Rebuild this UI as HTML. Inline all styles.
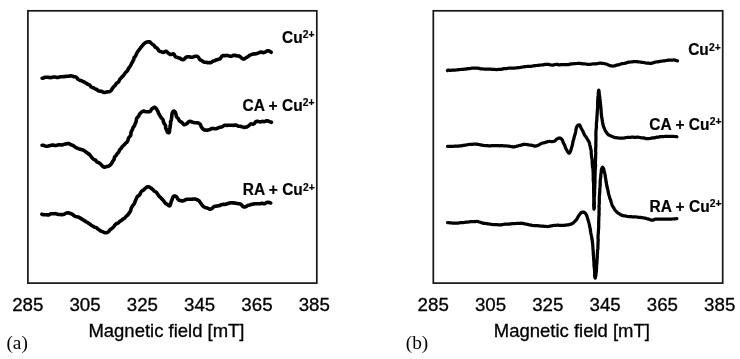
<!DOCTYPE html>
<html><head><meta charset="utf-8"><title>EPR spectra</title>
<style>
html,body{margin:0;padding:0;background:#fff;}
body{width:740px;height:359px;overflow:hidden;}
svg{display:block;}
text{fill:#000;}
.lb{font-family:"Liberation Sans",Arial,sans-serif;font-weight:bold;font-size:15.5px;stroke:#000;stroke-width:0.2px;}
.sp{font-family:"Liberation Sans",Arial,sans-serif;font-weight:bold;font-size:10.3px;stroke:#000;stroke-width:0.2px;}
.tk{font-family:"Liberation Sans",Arial,sans-serif;font-size:18px;stroke:#000;stroke-width:0.3px;}
.ax{font-family:"Liberation Sans",Arial,sans-serif;font-size:18px;stroke:#000;stroke-width:0.3px;}
.pn{font-family:"Liberation Serif","DejaVu Serif",serif;font-size:18px;}
</style></head><body>
<svg width="740" height="359" viewBox="0 0 740 359">
<rect x="0" y="0" width="740" height="359" fill="#fff"/>
<rect x="27.9" y="10.8" width="288.9" height="272.3" fill="none" stroke="#161616" stroke-width="1.7"/>
<rect x="433.3" y="10.8" width="289.4" height="272.3" fill="none" stroke="#161616" stroke-width="1.7"/>
<path d="M42.1,78.3 42.5,78.3 43.3,78.0 44.4,77.5 45.4,77.2 46.5,77.2 47.5,77.3 48.5,77.4 49.5,77.5 50.5,77.6 51.5,77.5 52.5,77.3 53.5,77.1 54.5,76.9 55.4,77.1 56.3,77.4 57.3,77.5 58.3,77.4 59.2,77.1 60.1,76.9 61.0,76.8 62.1,76.8 63.1,76.7 64.1,76.6 65.0,76.5 66.1,76.4 67.1,76.3 68.1,76.2 69.1,76.1 70.0,75.9 70.8,75.9 71.6,76.0 72.4,76.2 73.2,76.6 74.0,76.8 74.9,76.8 75.9,77.0 76.7,77.6 77.3,78.5 78.0,79.3 78.9,79.8 79.8,80.3 80.6,80.6 81.4,80.8 82.2,81.1 83.0,81.5 83.9,81.9 84.7,82.4 85.6,82.8 86.3,83.2 87.0,83.7 87.7,84.2 88.6,84.5 89.4,84.9 90.1,85.5 90.7,86.3 91.3,87.0 92.1,87.4 93.0,87.7 93.8,88.0 94.5,88.5 95.3,89.0 96.1,89.2 96.9,89.5 97.5,90.2 98.2,90.7 99.0,91.0 99.9,91.1 100.7,91.3 101.6,91.4 102.4,91.6 103.0,92.1 103.8,92.5 104.6,92.5 105.5,92.2 106.4,92.0 107.4,91.9 108.1,91.7 109.0,91.7 109.8,91.4 110.6,91.0 111.3,90.3 111.8,89.5 112.4,88.6 112.9,87.7 113.5,87.1 114.0,86.4 114.7,85.8 115.3,85.2 115.8,84.4 116.3,83.6 116.9,83.0 117.7,82.5 118.4,82.0 118.9,81.3 119.3,80.5 119.6,79.7 120.1,79.0 120.8,78.3 121.4,77.6 122.1,76.8 122.8,76.2 123.5,75.5 124.0,74.8 124.5,74.0 125.0,73.2 125.5,72.5 126.2,71.9 126.9,71.3 127.5,70.7 127.9,69.9 128.2,69.0 128.7,68.2 129.3,67.5 129.8,66.7 130.3,66.0 130.7,65.2 131.2,64.4 131.5,63.5 132.0,62.7 132.5,61.9 132.9,61.0 133.4,60.2 133.8,59.4 133.9,58.5 134.1,57.6 134.7,57.0 135.4,56.3 135.8,55.5 136.1,54.7 136.5,53.9 136.9,53.2 137.2,52.4 137.7,51.6 138.3,50.8 138.9,50.1 139.4,49.3 140.0,48.6 140.5,47.9 141.1,47.2 141.6,46.5 142.3,45.8 143.0,45.0 143.5,44.3 144.2,43.6 144.9,43.1 145.8,42.5 146.7,42.1 147.7,41.9 148.7,41.8 149.6,41.9 150.4,42.4 151.0,43.1 151.7,43.8 152.5,44.3 153.2,44.7 153.9,45.2 154.4,45.9 154.8,46.7 155.4,47.3 156.3,47.7 157.0,48.1 157.6,48.8 158.2,49.6 158.6,50.5 159.3,51.1 160.1,51.4 160.9,51.6 161.7,51.9 162.5,52.3 163.4,52.4 164.4,52.0 165.4,51.4 166.5,51.4 167.2,52.0 167.9,52.8 168.7,53.5 169.5,54.1 170.1,54.5 171.1,54.5 172.1,54.1 173.1,53.8 174.0,54.1 174.5,55.0 174.9,56.1 175.7,56.9 176.6,57.2 177.4,57.6 178.3,57.8 179.2,58.0 180.0,58.3 180.7,58.8 181.4,59.3 182.3,59.6 183.1,59.6 183.7,59.5 184.3,59.1 184.9,58.3 185.7,57.5 186.8,57.0 187.5,56.8 188.3,56.7 189.2,56.8 190.0,57.0 190.9,57.3 191.8,57.3 192.7,57.2 193.6,56.8 194.5,56.4 195.4,56.2 196.2,56.2 197.1,56.3 197.8,56.6 198.4,57.3 198.9,58.1 199.4,59.0 200.0,59.8 200.9,60.2 201.8,60.6 202.6,61.2 203.4,61.8 204.2,62.2 205.1,62.2 206.0,62.3 206.8,62.5 207.7,62.6 208.5,62.7 209.4,62.6 210.3,62.6 211.2,62.5 212.0,61.9 212.7,61.3 213.5,61.0 214.4,60.8 215.2,60.5 216.0,60.0 216.8,59.7 217.7,59.6 218.6,59.3 219.5,59.1 220.3,58.6 220.8,57.9 221.3,57.1 221.8,56.3 222.6,55.8 223.4,55.5 224.4,55.6 225.3,55.7 226.1,55.5 227.0,55.4 228.0,55.6 228.9,55.9 229.8,56.1 230.6,56.2 231.4,56.2 232.2,55.9 233.1,55.5 233.9,55.2 234.8,55.2 235.7,55.5 236.5,55.8 237.4,56.0 238.3,55.9 239.2,56.1 239.9,56.5 240.7,57.2 241.4,57.9 242.1,58.4 243.0,58.9 243.8,59.0 244.6,58.7 245.3,58.2 246.0,57.8 246.8,57.3 247.6,56.9 248.3,56.4 249.0,55.8 249.7,55.3 250.5,54.9 251.4,54.6 252.4,54.3 253.4,54.0 254.2,53.9 255.2,53.9 256.0,53.8 256.9,53.4 257.7,53.2 258.6,52.9 259.3,52.6 260.2,52.2 261.0,52.1 261.9,52.3 262.7,52.5 263.6,52.6 264.5,52.3 265.4,51.9 266.2,51.5 266.9,51.0 267.7,50.8 268.8,50.9 270.0,51.4 270.9,52.0 271.2,52.3" fill="none" stroke="#000" stroke-width="3.6" stroke-linejoin="round" stroke-linecap="round"/>
<path d="M42.0,145.2 42.3,145.2 42.9,145.2 43.9,145.5 45.0,145.9 46.2,146.3 47.4,146.2 48.4,146.0 49.3,145.7 50.3,145.5 51.2,145.3 52.2,145.0 53.1,145.0 54.1,145.3 55.1,145.5 56.1,145.5 57.0,145.3 58.0,144.9 58.9,144.7 59.9,144.7 60.9,144.9 61.8,145.0 62.8,144.8 63.7,144.4 64.7,144.1 65.7,144.0 66.6,143.9 67.5,143.6 68.4,143.5 69.3,143.8 70.1,144.3 70.9,144.8 71.7,145.1 72.6,145.3 73.4,145.7 74.1,146.2 74.7,146.8 75.5,147.3 76.3,147.7 77.1,148.0 77.8,148.4 78.5,148.7 79.5,149.0 80.4,149.3 81.2,149.6 82.1,149.8 82.9,150.0 83.6,150.3 84.3,150.8 85.0,151.2 85.7,151.7 86.4,152.3 87.0,152.9 87.8,153.4 88.6,153.9 89.4,154.4 89.9,155.1 90.5,155.7 91.0,156.4 91.6,157.1 92.1,157.8 92.7,158.5 93.3,159.1 94.1,159.5 95.0,159.9 95.8,160.4 96.3,161.2 97.0,161.9 97.8,162.3 98.6,162.6 99.4,163.1 100.2,163.7 100.9,164.3 101.5,165.0 102.2,165.9 103.1,166.7 104.0,167.1 105.0,167.1 105.8,166.7 106.5,166.5 107.5,166.4 108.5,166.2 109.2,165.8 109.8,165.3 110.5,164.8 111.1,164.1 111.6,163.3 112.1,162.5 112.4,161.8 112.8,161.1 113.4,160.5 113.9,159.8 114.2,159.0 114.3,158.1 114.5,157.1 115.1,156.4 115.8,155.8 116.4,155.1 116.8,154.2 117.3,153.5 118.1,152.8 118.7,152.1 119.1,151.2 119.5,150.3 119.9,149.5 120.5,148.9 121.2,148.3 121.7,147.6 122.2,146.8 122.7,146.1 123.4,145.6 124.0,145.0 124.6,144.3 125.2,143.7 125.8,143.0 126.6,142.5 127.2,141.8 127.7,140.9 128.0,140.1 128.2,139.2 128.5,138.3 128.9,137.5 129.5,136.7 130.2,136.0 130.7,135.2 130.9,134.3 130.9,133.3 131.0,132.4 131.4,131.6 131.7,130.8 132.1,130.0 132.6,129.2 132.8,128.4 133.0,127.6 133.4,127.0 134.1,126.2 134.6,125.4 134.9,124.5 135.3,123.6 135.6,122.8 136.0,121.9 136.2,120.9 136.4,120.0 136.5,118.9 136.9,118.0 137.6,117.3 138.3,116.5 138.9,115.7 139.2,114.8 139.6,114.0 140.3,113.3 141.0,112.7 141.6,112.1 142.2,111.6 142.9,111.3 143.6,111.1 144.4,111.3 145.2,111.6 146.1,111.8 147.1,111.8 148.2,111.8 149.3,111.8 150.3,111.4 150.8,110.6 151.2,109.7 151.8,109.0 152.4,108.5 153.1,108.1 153.7,107.6 154.5,107.3 155.3,107.6 156.0,108.3 156.5,109.1 156.9,109.7 157.4,110.5 157.9,111.4 158.2,112.3 158.5,113.2 158.9,114.0 159.5,114.7 159.9,115.6 160.4,116.4 160.8,117.1 161.3,117.8 161.9,118.4 162.5,119.0 163.0,119.7 163.3,120.6 163.4,121.5 163.6,122.4 164.0,123.2 164.5,124.0 165.1,124.7 165.5,125.6 165.7,126.5 165.6,127.4 165.7,128.3 166.1,129.0 166.6,129.9 167.0,130.8 167.2,131.7 167.6,132.3 168.8,132.8 169.2,132.4 169.5,131.5 169.6,130.2 169.7,129.0 169.9,128.2 170.1,127.5 170.1,126.6 170.1,125.7 170.4,124.8 170.6,123.9 170.6,123.0 170.5,122.0 170.8,121.2 171.2,120.3 171.4,119.3 171.5,118.3 171.6,117.4 171.8,116.4 171.8,115.5 171.9,114.6 172.0,113.9 172.3,112.9 172.7,112.0 173.2,111.4 173.5,111.0 174.1,111.1 174.8,111.7 175.3,112.2 175.6,113.0 175.9,113.8 176.0,114.7 176.2,115.6 176.4,116.5 176.9,117.3 177.6,118.0 178.2,118.6 178.7,119.4 179.1,120.3 179.8,121.1 180.6,121.7 181.5,122.1 182.2,122.7 182.7,123.5 183.3,124.1 184.1,124.6 185.1,124.5 186.1,124.1 187.0,123.5 187.6,122.8 188.2,122.2 188.9,121.6 189.7,121.4 190.4,121.4 191.2,121.6 192.1,122.0 192.9,122.3 193.9,122.6 194.9,122.7 195.8,122.8 196.7,122.8 197.7,122.9 198.5,123.1 199.3,123.5 200.1,124.2 200.6,125.1 201.0,126.1 201.3,126.9 201.9,127.7 202.4,128.4 203.0,129.0 203.6,129.5 204.3,129.9 205.0,130.0 205.8,130.1 206.8,130.1 207.9,130.1 208.9,129.8 209.7,129.5 210.6,129.1 211.4,128.6 212.4,128.4 213.4,128.5 214.4,128.8 215.3,128.8 216.2,128.7 217.1,128.4 217.8,128.0 218.8,127.6 219.7,127.3 220.7,127.2 221.6,126.9 222.5,126.6 223.2,126.1 224.0,125.5 224.8,125.3 225.6,125.3 226.5,125.4 227.3,125.4 228.2,125.3 229.0,125.3 229.9,125.2 230.8,125.2 231.6,125.3 232.5,125.3 233.4,125.4 234.3,125.2 235.2,125.0 236.2,125.1 237.0,125.5 237.8,126.0 238.6,126.2 239.5,126.2 240.3,126.3 241.1,126.5 241.8,126.7 242.9,127.0 243.8,127.2 244.6,127.4 245.5,127.3 246.5,127.1 247.5,126.5 248.2,126.1 248.9,125.6 249.5,125.1 250.1,124.4 250.8,123.9 251.8,124.0 252.8,124.2 253.7,124.0 254.5,123.3 255.1,122.5 255.8,121.7 256.7,121.3 257.7,121.3 258.7,121.6 259.7,121.9 260.7,121.9 261.6,121.6 262.5,121.4 263.3,121.5 264.1,121.7 265.1,121.4 266.0,121.0 266.9,120.8 267.8,121.0 268.7,121.3 269.5,121.6 270.7,122.1 271.5,122.3" fill="none" stroke="#000" stroke-width="3.6" stroke-linejoin="round" stroke-linecap="round"/>
<path d="M41.9,214.2 42.2,214.4 43.1,214.6 44.3,214.8 45.6,214.7 46.7,214.8 47.5,214.9 48.4,215.0 49.2,214.7 50.0,214.2 50.8,213.8 51.7,213.7 52.6,213.8 53.6,213.8 54.6,213.7 55.6,213.6 56.6,213.9 57.5,214.3 58.4,214.5 59.3,214.5 60.2,214.5 61.0,214.6 61.8,214.7 62.6,214.5 63.3,214.5 64.2,214.3 65.0,213.8 65.9,213.3 66.8,213.0 67.6,212.9 68.4,212.9 69.2,213.0 70.0,213.4 70.9,213.6 71.8,214.0 72.5,214.4 73.3,215.1 74.0,215.7 74.9,216.2 75.9,216.5 76.9,216.7 77.8,216.9 78.7,217.2 79.5,217.6 80.3,218.1 81.1,218.6 81.9,219.1 82.7,219.6 83.6,220.1 84.3,220.6 85.1,221.1 85.9,221.6 86.8,222.1 87.6,222.5 88.3,223.0 88.9,223.5 89.7,224.0 90.4,224.5 91.0,225.1 91.8,225.5 92.5,226.0 93.3,226.4 94.0,226.9 94.8,227.3 95.7,227.5 96.5,227.7 97.1,228.3 97.8,228.9 98.6,229.5 99.4,230.0 100.1,230.6 100.8,231.0 101.8,231.4 102.8,231.7 103.6,232.2 104.5,232.6 105.4,232.7 106.3,232.7 107.3,232.5 108.2,232.0 108.9,231.3 109.3,230.7 109.8,230.1 110.4,229.5 111.0,229.0 111.8,228.6 112.4,228.0 113.1,227.4 113.6,226.8 114.2,226.1 114.7,225.3 115.4,224.6 116.0,224.0 116.7,223.5 117.6,223.2 118.5,222.9 119.1,222.2 119.7,221.5 120.4,221.0 121.3,220.7 121.9,220.0 122.5,219.4 123.3,218.9 124.1,218.5 124.8,218.0 125.3,217.3 125.9,216.7 126.5,216.1 127.1,215.5 127.8,215.0 128.3,214.2 128.9,213.5 129.4,212.7 129.9,211.9 130.5,211.1 130.8,210.1 131.0,209.2 131.2,208.3 131.6,207.5 132.1,206.7 132.6,205.9 133.1,205.1 133.7,204.3 134.3,203.6 134.8,202.7 135.0,201.8 135.3,201.0 135.7,200.1 136.1,199.3 136.5,198.5 136.8,197.6 137.2,196.8 137.9,196.1 138.7,195.6 139.5,195.0 140.0,194.2 140.4,193.3 140.8,192.4 141.3,191.5 142.0,190.9 142.9,190.4 143.7,190.0 144.3,189.3 145.0,188.6 145.7,188.0 146.3,187.5 146.9,187.1 147.4,186.8 148.2,186.8 149.1,187.0 150.0,187.4 150.9,188.0 151.5,188.5 152.2,189.1 152.9,189.7 153.6,190.3 154.2,191.0 155.0,191.5 155.8,191.9 156.5,192.4 157.0,193.2 157.5,193.9 158.0,194.7 158.4,195.4 159.0,196.1 159.6,196.7 160.3,197.2 160.9,197.8 161.5,198.5 162.0,199.1 162.7,199.7 163.2,200.3 163.8,201.1 164.3,201.9 164.9,202.6 165.5,203.4 166.3,203.9 167.1,204.2 167.9,204.8 168.6,205.6 169.4,205.9 170.0,205.5 170.3,204.7 170.7,203.8 170.9,202.8 171.1,201.8 171.5,200.9 171.9,200.0 172.3,199.0 172.6,198.0 173.0,197.1 173.5,196.4 173.9,196.2 174.5,196.0 175.3,196.1 176.2,196.4 176.8,197.1 177.3,198.1 177.8,199.0 178.5,199.7 179.2,200.2 180.1,200.5 181.0,200.8 181.8,200.9 182.6,200.9 183.3,200.8 184.0,200.5 184.9,200.1 185.7,199.6 186.7,199.2 187.5,199.2 188.4,199.2 189.2,199.3 190.1,199.2 190.9,199.2 191.8,199.2 192.6,199.1 193.5,199.0 194.4,199.0 195.4,199.1 196.2,199.4 197.0,199.7 197.8,200.0 198.6,200.5 199.4,201.2 199.9,202.0 200.5,202.8 201.1,203.6 201.6,204.4 202.1,205.2 202.7,205.9 203.5,206.5 204.3,207.0 205.1,207.5 206.0,207.7 206.9,207.9 207.8,208.2 208.7,208.7 209.5,209.1 210.5,209.2 211.4,208.8 212.2,208.2 212.9,207.6 213.6,206.9 214.4,206.4 215.3,206.2 216.2,206.1 217.1,206.0 217.9,205.9 218.8,205.8 219.7,205.6 220.5,205.1 221.3,204.7 222.2,204.5 223.1,204.4 224.0,204.4 224.9,204.4 225.8,204.3 226.6,204.0 227.4,203.6 228.3,203.5 229.1,203.3 229.9,202.9 230.7,202.7 231.5,202.8 232.3,202.9 233.1,202.9 233.9,202.9 234.7,203.0 235.5,203.3 236.4,203.4 237.3,203.5 238.2,203.7 239.1,203.8 239.9,203.9 240.9,204.2 241.6,204.9 242.2,205.7 242.9,206.5 243.8,207.0 244.6,207.0 245.2,206.9 245.9,206.6 246.7,206.1 247.4,205.7 248.1,205.3 248.9,205.2 249.7,205.0 250.5,204.8 251.3,204.5 252.1,204.3 253.0,204.1 253.9,204.0 254.8,203.8 255.7,203.7 256.6,203.7 257.5,203.7 258.4,203.7 259.3,203.8 260.2,203.7 261.1,203.5 262.0,203.3 262.9,203.4 263.8,203.7 264.7,203.8 265.6,203.3 266.3,202.7 267.2,202.4 268.0,202.3 269.1,202.5 270.3,202.8 270.7,203.0" fill="none" stroke="#000" stroke-width="3.6" stroke-linejoin="round" stroke-linecap="round"/>
<path d="M447.5,70.5 447.7,70.3 448.1,70.2 448.9,70.2 449.8,70.3 450.9,70.3 452.1,70.2 453.3,70.1 454.5,70.0 455.7,70.0 456.7,69.9 457.6,69.8 458.5,69.7 459.4,69.6 460.3,69.5 461.3,69.4 462.2,69.3 463.1,69.3 464.0,69.2 464.9,69.2 465.8,69.1 466.7,68.9 467.7,68.7 468.6,68.7 469.6,68.7 470.5,68.5 471.4,68.2 472.3,68.1 473.2,68.1 474.2,68.1 475.1,68.2 476.0,68.2 477.0,68.2 477.9,68.2 478.8,68.4 479.8,68.6 480.7,68.8 481.6,68.9 482.6,68.9 483.5,69.0 484.4,69.2 485.4,69.2 486.3,69.1 487.2,69.0 488.2,69.1 489.1,69.2 490.0,69.2 490.9,69.2 491.8,69.3 492.8,69.4 493.7,69.4 494.7,69.4 495.6,69.5 496.6,69.5 497.5,69.5 498.5,69.4 499.4,69.4 500.3,69.4 501.2,69.3 502.2,69.1 503.1,68.9 504.0,68.7 505.0,68.6 506.0,68.5 506.9,68.5 507.8,68.3 508.7,68.2 509.7,68.1 510.6,68.1 511.5,68.1 512.4,68.0 513.4,68.0 514.3,68.0 515.2,68.0 516.1,67.9 517.1,67.8 518.0,67.7 519.0,67.6 519.9,67.5 520.8,67.3 521.8,67.1 522.7,67.0 523.6,66.9 524.5,66.7 525.4,66.6 526.4,66.5 527.3,66.4 528.2,66.4 529.1,66.3 530.1,66.3 531.0,66.3 531.9,66.2 532.8,66.0 533.8,65.8 534.7,65.6 535.7,65.6 536.6,65.5 537.6,65.4 538.5,65.3 539.4,65.2 540.3,65.1 541.3,65.0 542.3,64.9 543.3,64.8 544.2,64.6 545.2,64.4 546.1,64.3 547.0,64.3 547.9,64.3 548.7,64.4 549.5,64.6 550.4,64.8 551.2,65.0 552.0,65.1 552.9,65.1 553.7,64.9 554.6,64.7 555.4,64.5 556.2,64.4 557.0,64.4 558.0,64.6 558.9,64.8 560.0,64.8 560.8,64.7 561.7,64.6 562.6,64.6 563.6,64.6 564.6,64.6 565.6,64.6 566.7,64.6 567.5,64.5 568.4,64.6 569.3,64.4 570.2,64.2 571.1,63.9 572.0,63.9 572.9,63.8 573.9,63.7 574.8,63.6 575.8,63.6 576.7,63.5 577.6,63.4 578.4,63.3 579.3,63.3 580.2,63.4 581.1,63.6 582.0,63.7 582.9,63.9 583.8,63.9 584.7,63.9 585.6,64.0 586.6,64.1 587.5,64.3 588.4,64.4 589.3,64.4 590.2,64.3 591.1,64.2 592.1,64.0 593.0,63.9 594.0,63.8 595.0,63.8 596.0,63.8 596.9,63.7 597.8,63.5 598.7,63.3 599.5,63.2 600.3,63.1 601.1,63.2 601.8,63.3 602.8,63.4 603.6,63.5 604.5,63.6 605.2,63.8 606.0,64.0 606.8,64.3 607.6,64.6 608.4,65.0 609.2,65.4 610.1,65.6 610.9,65.8 611.8,65.9 612.6,66.0 613.4,66.0 614.2,65.9 615.1,65.7 615.9,65.3 616.7,65.1 617.6,64.9 618.5,64.9 619.3,64.6 620.1,64.3 620.9,64.0 621.7,63.7 622.6,63.6 623.5,63.5 624.4,63.4 625.3,63.2 626.1,62.9 626.9,62.6 627.8,62.4 628.7,62.2 629.6,62.1 630.6,62.0 631.5,61.9 632.4,61.8 633.3,61.7 634.3,61.6 635.2,61.6 636.1,61.7 637.1,61.7 638.0,61.8 639.0,61.9 640.0,62.0 640.9,62.2 641.8,62.3 642.7,62.4 643.6,62.5 644.6,62.7 645.6,63.0 646.5,63.1 647.5,63.1 648.4,63.2 649.4,63.3 650.3,63.4 651.1,63.4 652.0,63.2 652.7,62.9 653.5,62.6 654.3,62.4 655.2,62.1 656.0,62.0 656.9,61.9 657.8,61.8 658.7,61.6 659.6,61.4 660.6,61.3 661.5,61.2 662.5,61.0 663.4,60.9 664.4,60.8 665.3,60.7 666.2,60.5 667.2,60.3 668.2,60.1 669.2,60.0 670.2,60.0 671.1,60.0 672.1,60.0 672.9,60.0 673.7,59.9 675.0,60.1 676.2,60.5 677.1,60.8 677.5,60.9" fill="none" stroke="#000" stroke-width="3.25" stroke-linejoin="round" stroke-linecap="round"/>
<path d="M447.5,146.3 447.7,146.3 448.2,146.3 448.9,146.3 449.9,146.3 451.0,146.3 452.2,146.3 453.4,146.3 454.6,146.2 455.7,146.2 456.7,146.2 457.6,146.2 458.6,146.1 459.5,145.9 460.4,145.8 461.4,145.8 462.3,145.6 463.2,145.4 464.1,145.3 465.1,145.1 466.0,145.0 466.9,144.8 467.7,144.7 468.6,144.5 469.6,144.4 470.5,144.4 471.4,144.3 472.4,144.3 473.3,144.2 474.2,144.2 475.1,144.2 476.0,144.1 476.9,144.1 477.8,144.3 478.7,144.5 479.6,144.7 480.5,144.9 481.4,145.1 482.3,145.2 483.2,145.4 484.2,145.5 485.1,145.6 486.0,145.7 486.9,145.7 487.8,145.7 488.7,145.8 489.6,145.8 490.5,145.8 491.4,145.7 492.3,145.6 493.2,145.6 494.1,145.6 495.0,145.6 495.9,145.5 496.8,145.5 497.8,145.6 498.7,145.7 499.7,145.8 500.6,145.7 501.6,145.7 502.5,145.7 503.4,145.8 504.3,145.8 505.2,145.8 506.1,145.9 506.9,146.0 507.9,146.1 508.9,146.2 509.9,146.3 510.8,146.5 511.7,146.7 512.6,146.9 513.5,146.9 514.4,146.8 515.2,146.6 516.1,146.4 516.9,146.2 517.8,146.0 518.6,145.7 519.4,145.5 520.2,145.3 521.0,145.1 521.9,144.8 522.7,144.6 523.6,144.4 524.5,144.4 525.4,144.4 526.4,144.5 527.4,144.6 528.4,144.9 529.3,145.0 530.3,145.1 531.1,145.2 532.0,145.3 532.8,145.5 533.6,145.9 534.5,146.1 535.3,146.1 536.1,145.9 536.9,145.7 537.7,145.4 538.6,145.0 539.4,144.6 540.2,144.1 541.1,143.6 541.9,143.3 542.8,143.0 543.6,142.9 544.5,142.7 545.3,142.4 546.1,142.1 547.0,141.9 547.8,141.7 548.6,141.5 549.5,141.4 550.4,141.5 551.3,141.6 552.2,141.6 553.0,141.5 553.8,141.3 554.5,141.1 555.3,140.6 555.9,140.0 556.5,139.3 557.2,138.7 558.0,138.4 558.7,138.1 559.5,138.0 560.4,138.2 561.2,138.7 561.8,139.4 562.3,140.0 562.6,140.7 562.9,141.5 563.2,142.4 563.6,143.2 564.0,144.0 564.4,144.8 564.8,145.6 565.1,146.5 565.4,147.4 565.7,148.3 566.1,149.0 566.6,149.9 567.1,150.8 567.5,151.6 567.9,152.2 568.6,152.9 569.3,153.2 569.7,152.8 570.1,152.0 570.5,151.1 570.9,150.1 571.1,149.4 571.3,148.6 571.5,147.8 571.8,146.9 572.1,146.0 572.4,145.1 572.6,144.2 572.7,143.2 572.8,142.3 573.0,141.4 573.3,140.5 573.6,139.6 573.9,138.7 574.0,137.8 574.2,136.9 574.5,136.0 574.8,135.1 575.1,134.3 575.3,133.4 575.5,132.5 575.7,131.5 575.8,130.5 576.0,129.6 576.2,128.7 576.4,127.8 576.6,127.1 577.1,126.2 577.6,125.5 578.2,125.0 579.5,124.8 579.9,125.3 580.3,126.2 580.7,127.3 581.1,128.1 581.6,129.0 582.1,129.8 582.6,130.7 583.0,131.6 583.4,132.4 583.8,133.3 584.1,134.1 584.5,134.9 585.0,135.7 585.5,136.3 586.0,137.0 586.5,137.7 587.0,138.4 587.4,139.2 587.8,139.9 588.2,140.6 588.6,141.3 589.0,142.0 589.3,142.7 589.6,143.5 589.7,144.3 589.9,145.1 590.1,145.9 590.3,146.8 590.5,147.7 590.6,148.6 590.8,149.4 591.1,150.2 591.2,151.1 591.2,152.1 591.2,153.0 591.3,153.9 591.4,154.9 591.5,155.8 591.6,156.7 591.7,157.6 591.9,158.5 592.1,159.5 592.2,160.4 592.2,161.3 592.2,162.2 592.2,163.2 592.3,164.1 592.4,165.1 592.4,166.0 592.5,166.8 592.7,167.7 592.9,168.5 593.0,169.4 593.0,170.3 593.1,171.2 593.1,172.1 593.2,173.1 593.2,174.0 593.2,175.0 593.2,175.8 593.3,176.6 593.3,177.4 593.2,178.3 593.2,179.1 593.3,180.0 593.3,180.9 593.4,181.8 593.5,182.6 593.6,183.5 593.6,184.4 593.7,185.4 593.6,186.3 593.6,187.2 593.6,188.1 593.6,189.1 593.6,190.0 593.6,190.9 593.6,191.9 593.7,192.9 593.7,194.0 593.7,195.2 593.7,196.4 593.8,197.6 593.8,198.8 593.8,200.0 593.8,201.2 593.8,202.3 593.8,203.4 593.7,204.4 593.7,205.4 593.8,206.3 593.8,207.1 593.9,207.7 593.9,208.3 593.9,208.7 593.9,208.9 594.0,209.0 594.1,208.9 594.1,208.7 594.2,208.3 594.3,207.8 594.3,207.1 594.2,206.4 594.2,205.5 594.3,204.6 594.4,203.5 594.3,202.5 594.2,201.3 594.2,200.2 594.2,199.0 594.2,197.8 594.3,196.6 594.4,195.4 594.6,194.2 594.6,193.1 594.6,192.0 594.6,191.0 594.6,190.0 594.6,189.1 594.7,188.2 594.8,187.3 594.8,186.4 594.8,185.5 594.8,184.5 594.9,183.6 595.0,182.7 595.0,181.8 595.0,180.9 594.9,179.9 594.9,179.0 595.0,178.1 595.0,177.2 595.0,176.3 595.1,175.4 595.1,174.5 595.1,173.6 595.1,172.7 595.1,171.8 595.2,170.9 595.2,170.0 595.3,169.1 595.3,168.1 595.4,167.2 595.6,166.2 595.6,165.3 595.5,164.4 595.4,163.5 595.3,162.6 595.4,161.6 595.5,160.7 595.5,159.8 595.5,158.9 595.6,158.0 595.7,157.1 595.6,156.2 595.6,155.3 595.7,154.3 595.8,153.4 595.8,152.5 595.6,151.6 595.6,150.7 595.7,149.8 595.7,148.9 595.7,147.9 595.8,147.0 595.9,146.1 595.9,145.2 595.8,144.2 595.8,143.3 595.8,142.4 595.9,141.5 595.9,140.6 595.9,139.7 595.9,138.8 596.0,137.9 595.9,137.0 595.9,136.2 595.9,135.3 595.9,134.5 595.9,133.5 595.9,132.6 595.9,131.7 596.0,130.8 596.1,129.9 596.2,129.0 596.3,128.1 596.4,127.2 596.4,126.4 596.4,125.5 596.4,124.6 596.4,123.7 596.5,122.7 596.5,121.8 596.7,121.0 596.8,120.1 596.8,119.2 596.9,118.4 596.9,117.5 597.0,116.5 597.0,115.6 597.1,114.7 597.2,113.8 597.2,112.9 597.3,111.9 597.3,111.0 597.4,110.1 597.5,109.2 597.5,108.4 597.6,107.5 597.6,106.6 597.6,105.8 597.6,105.0 597.6,104.0 597.6,103.0 597.6,101.9 597.7,100.9 597.8,99.9 597.9,99.0 597.9,98.0 597.9,97.1 598.1,96.3 598.3,95.5 598.3,94.7 598.3,94.0 598.3,92.8 598.4,91.6 598.6,90.7 598.8,90.3 599.0,90.8 599.1,91.7 599.2,92.9 599.2,94.0 599.4,94.8 599.5,95.5 599.6,96.3 599.7,97.2 599.9,98.0 600.0,99.0 600.1,99.8 600.1,100.6 600.2,101.5 600.3,102.4 600.4,103.3 600.5,104.3 600.6,105.2 600.7,106.2 600.8,107.2 600.9,108.1 601.0,109.1 601.1,110.0 601.1,110.9 601.2,111.9 601.2,112.9 601.3,113.8 601.4,114.8 601.5,115.7 601.6,116.7 601.8,117.5 601.9,118.4 602.1,119.2 602.2,120.0 602.3,120.9 602.5,121.8 602.7,122.6 602.8,123.4 602.9,124.2 603.1,125.0 603.3,125.9 603.6,126.6 603.9,127.4 604.3,128.2 604.6,129.0 604.9,129.8 605.3,130.7 605.8,131.5 606.3,132.3 606.9,133.1 607.5,133.9 608.2,134.6 608.9,135.1 609.7,135.4 610.4,135.8 611.2,136.1 612.0,136.5 612.8,136.8 613.6,137.1 614.5,137.4 615.3,137.6 616.1,137.7 617.0,137.8 617.9,137.9 618.8,138.0 619.7,138.2 620.6,138.2 621.5,138.2 622.3,138.2 623.2,138.1 624.0,138.0 624.8,137.9 625.6,137.7 626.4,137.5 627.3,137.4 628.1,137.4 629.0,137.4 629.8,137.4 630.7,137.3 631.6,137.2 632.5,137.2 633.3,137.2 634.2,137.3 635.1,137.3 636.0,137.3 636.8,137.2 637.8,137.2 638.8,137.3 639.8,137.5 640.8,137.7 641.7,137.8 642.6,137.8 643.5,137.9 644.5,138.1 645.3,138.4 646.1,138.6 647.0,138.7 647.9,138.7 648.8,138.6 649.7,138.5 650.6,138.3 651.6,138.1 652.5,137.9 653.5,137.8 654.3,137.8 655.1,137.6 656.0,137.4 656.8,137.2 657.7,137.1 658.5,137.1 659.4,136.9 660.2,136.7 661.2,136.6 662.1,136.5 663.1,136.5 664.1,136.5 665.0,136.4 666.0,136.4 666.9,136.4 667.9,136.4 668.8,136.3 669.7,136.3 670.6,136.3 671.5,136.3 672.4,136.3 673.5,136.4 674.7,136.5 675.8,136.6 676.6,136.7 676.9,136.8" fill="none" stroke="#000" stroke-width="3.25" stroke-linejoin="round" stroke-linecap="round"/>
<path d="M447.5,222.6 447.7,222.6 448.2,222.6 448.9,222.7 449.8,222.8 450.9,222.9 452.1,223.0 453.3,223.0 454.5,223.1 455.7,223.1 456.7,223.1 457.6,223.0 458.5,223.0 459.4,222.8 460.3,222.7 461.2,222.6 462.2,222.6 463.1,222.6 464.0,222.5 464.9,222.3 465.8,222.2 466.7,222.2 467.6,222.1 468.6,222.0 469.5,221.8 470.4,221.7 471.3,221.6 472.2,221.5 473.2,221.5 474.1,221.5 475.0,221.5 475.9,221.5 476.8,221.4 477.7,221.5 478.6,221.8 479.5,222.0 480.4,222.3 481.3,222.6 482.2,222.9 483.1,223.1 484.1,223.3 485.1,223.4 485.9,223.5 486.8,223.6 487.6,223.8 488.5,223.9 489.4,224.0 490.3,224.2 491.2,224.3 492.1,224.5 493.1,224.6 494.0,224.6 494.9,224.6 495.8,224.6 496.7,224.7 497.6,224.7 498.5,224.8 499.4,224.8 500.3,224.8 501.3,224.8 502.2,224.6 503.0,224.5 503.9,224.3 504.8,224.2 505.7,224.2 506.6,224.1 507.5,224.1 508.4,224.1 509.3,224.1 510.2,223.9 511.1,223.8 512.0,223.7 512.9,223.7 513.9,223.7 514.8,223.6 515.7,223.5 516.6,223.4 517.5,223.3 518.4,223.3 519.3,223.3 520.2,223.3 521.1,223.2 521.9,223.3 522.8,223.4 523.7,223.6 524.5,223.8 525.3,224.0 526.2,224.1 527.0,224.3 527.8,224.4 528.6,224.6 529.5,224.8 530.3,225.1 531.2,225.2 532.1,225.4 533.0,225.5 533.9,225.6 534.9,225.5 535.8,225.5 536.8,225.5 537.7,225.6 538.6,225.8 539.5,225.9 540.3,226.0 541.3,226.0 542.3,226.1 543.2,226.2 544.2,226.3 545.1,226.4 546.0,226.4 547.0,226.5 547.9,226.5 548.9,226.4 549.8,226.2 550.7,226.0 551.7,225.8 552.6,225.6 553.5,225.5 554.5,225.3 555.4,225.3 556.2,225.3 557.1,225.2 558.0,225.2 558.9,225.3 559.7,225.4 560.6,225.4 561.5,225.4 562.3,225.4 563.3,225.4 564.3,225.3 565.3,225.2 566.3,225.1 567.2,224.9 568.1,224.8 569.0,224.6 569.9,224.3 570.9,224.1 571.8,223.8 572.6,223.3 573.4,222.8 574.0,222.2 574.6,221.6 575.2,221.0 575.8,220.3 576.4,219.7 576.9,219.0 577.3,218.2 577.7,217.4 578.2,216.6 578.6,215.8 579.2,215.2 579.6,214.5 580.3,213.6 581.0,212.8 581.8,212.4 582.9,212.1 583.9,212.2 584.5,212.5 585.1,213.0 585.7,213.7 586.2,214.5 586.5,215.3 586.9,216.1 587.2,217.0 587.5,218.0 587.8,218.9 588.0,219.7 588.2,220.5 588.5,221.3 588.7,222.2 589.0,223.0 589.2,223.9 589.4,224.7 589.5,225.6 589.7,226.5 589.9,227.4 590.2,228.3 590.3,229.3 590.4,230.2 590.5,231.2 590.7,232.1 590.8,233.0 591.0,233.9 591.2,234.7 591.4,235.6 591.6,236.4 591.7,237.3 591.8,238.2 591.9,239.1 592.1,240.0 592.3,240.8 592.4,241.7 592.4,242.5 592.6,243.4 592.7,244.3 592.7,245.2 592.8,246.1 592.9,247.1 592.9,248.0 593.0,249.0 593.1,250.0 593.1,250.8 593.2,251.6 593.3,252.5 593.3,253.3 593.3,254.2 593.4,255.1 593.5,256.0 593.6,256.9 593.6,257.8 593.7,258.8 593.7,259.7 593.8,260.6 593.9,261.5 593.9,262.4 594.0,263.3 594.0,264.1 594.0,265.0 594.0,266.0 594.2,267.1 594.4,268.3 594.5,269.5 594.6,270.8 594.6,272.0 594.7,273.2 594.7,274.3 594.6,275.3 594.7,276.2 594.9,277.0 595.0,277.5 595.1,277.9 595.2,278.1 595.3,277.9 595.4,277.4 595.5,276.8 595.8,276.0 595.9,275.0 596.0,273.9 596.1,272.7 596.3,271.5 596.4,270.3 596.5,269.1 596.5,268.0 596.5,267.2 596.6,266.4 596.6,265.6 596.7,264.7 596.8,263.8 596.9,262.9 596.9,262.0 597.0,261.0 597.0,260.1 597.1,259.1 597.2,258.2 597.3,257.2 597.3,256.3 597.3,255.3 597.3,254.4 597.4,253.5 597.5,252.6 597.5,251.7 597.5,250.8 597.6,250.0 597.8,249.0 597.9,248.0 597.9,247.1 597.9,246.2 597.9,245.2 598.0,244.3 598.0,243.4 598.0,242.5 598.1,241.6 598.2,240.7 598.2,239.8 598.1,238.9 598.0,237.9 598.0,237.0 598.1,236.1 598.1,235.3 598.2,234.4 598.3,233.6 598.3,232.7 598.4,231.8 598.4,230.9 598.5,230.1 598.5,229.2 598.6,228.3 598.7,227.4 598.7,226.5 598.7,225.6 598.7,224.7 598.7,223.8 598.7,222.9 598.7,222.0 598.7,221.1 598.8,220.2 598.8,219.3 598.8,218.4 598.8,217.5 598.9,216.6 599.0,215.6 599.1,214.7 599.1,213.8 599.0,212.8 599.0,211.9 599.0,211.0 599.1,210.1 599.2,209.2 599.2,208.3 599.1,207.4 599.0,206.6 599.0,205.8 599.1,205.0 599.2,204.0 599.3,203.0 599.3,202.1 599.3,201.2 599.3,200.3 599.3,199.5 599.3,198.6 599.3,197.7 599.3,196.8 599.4,195.9 599.5,195.0 599.6,194.1 599.7,193.2 599.7,192.3 599.8,191.3 599.8,190.4 599.8,189.4 599.8,188.4 600.0,187.5 600.1,186.6 600.1,185.6 600.2,184.7 600.2,183.9 600.2,183.0 600.2,182.0 600.2,181.1 600.3,180.1 600.4,179.2 600.5,178.3 600.7,177.5 600.8,176.6 600.8,175.8 600.8,175.0 600.9,174.0 601.1,173.1 601.3,172.2 601.3,171.4 601.3,170.5 601.4,169.8 601.8,168.6 602.2,167.6 602.6,167.2 603.2,167.8 603.7,169.0 603.9,169.7 604.0,170.6 604.3,171.5 604.5,172.5 604.8,173.5 605.0,174.5 605.1,175.3 605.2,176.1 605.4,177.0 605.5,177.9 605.7,178.8 605.8,179.7 605.9,180.6 606.1,181.5 606.2,182.4 606.4,183.3 606.5,184.2 606.7,185.0 606.9,185.9 607.1,186.8 607.2,187.6 607.4,188.5 607.7,189.4 607.9,190.2 608.1,191.1 608.2,192.0 608.4,192.8 608.6,193.8 608.8,194.7 609.1,195.6 609.4,196.6 609.6,197.5 609.9,198.4 610.3,199.2 610.6,200.1 610.8,201.0 611.1,201.9 611.4,202.9 611.7,203.8 611.9,204.7 612.3,205.6 612.8,206.4 613.3,207.2 613.8,207.9 614.2,208.7 614.6,209.4 615.1,210.2 615.6,210.8 616.2,211.5 616.8,212.0 617.5,212.6 618.2,213.1 619.0,213.6 619.8,214.1 620.5,214.6 621.3,215.1 622.2,215.4 623.1,215.7 624.0,215.8 624.9,215.9 625.9,216.0 626.8,216.3 627.6,216.5 628.5,216.6 629.4,216.6 630.3,216.7 631.2,216.7 632.1,216.8 633.1,216.8 634.0,216.8 634.9,216.8 635.8,216.9 636.8,217.0 637.7,217.2 638.6,217.3 639.6,217.3 640.5,217.4 641.4,217.6 642.3,217.7 643.2,217.8 644.1,218.0 645.0,218.1 645.8,218.3 646.7,218.6 647.5,218.8 648.3,218.9 649.0,219.2 649.9,219.6 650.7,219.9 651.6,220.2 652.4,220.2 653.2,220.1 653.9,219.7 654.7,219.3 655.7,219.0 656.4,219.0 657.2,219.0 658.1,219.1 659.0,219.1 659.9,219.2 660.9,219.2 661.9,219.2 662.8,219.2 663.7,219.1 664.6,219.1 665.6,219.1 666.6,219.1 667.6,219.1 668.5,219.0 669.5,219.0 670.4,219.1 671.3,219.1 672.4,219.0 673.6,218.9 674.8,218.8 675.9,218.7 676.6,218.6 676.9,218.6" fill="none" stroke="#000" stroke-width="3.25" stroke-linejoin="round" stroke-linecap="round"/>
<text transform="translate(302.60,42.6) scale(1,1.02)" text-anchor="end" class="lb">Cu</text><text transform="translate(314.60,37.90) scale(1,1.0)" text-anchor="end" class="sp">2+</text>
<text transform="translate(302.60,110.8) scale(1,1.02)" text-anchor="end" class="lb">CA + Cu</text><text transform="translate(314.60,106.10) scale(1,1.0)" text-anchor="end" class="sp">2+</text>
<text transform="translate(302.80,195.3) scale(1,1.02)" text-anchor="end" class="lb">RA + Cu</text><text transform="translate(314.80,190.60) scale(1,1.0)" text-anchor="end" class="sp">2+</text>
<text transform="translate(708.80,55.4) scale(1,1.02)" text-anchor="end" class="lb">Cu</text><text transform="translate(720.80,50.70) scale(1,1.0)" text-anchor="end" class="sp">2+</text>
<text transform="translate(709.40,130.1) scale(1,1.02)" text-anchor="end" class="lb">CA + Cu</text><text transform="translate(721.40,125.40) scale(1,1.0)" text-anchor="end" class="sp">2+</text>
<text transform="translate(709.60,211.5) scale(1,1.02)" text-anchor="end" class="lb">RA + Cu</text><text transform="translate(721.60,206.80) scale(1,1.0)" text-anchor="end" class="sp">2+</text>
<text transform="translate(27.75,311.0) scale(1.04,1)" text-anchor="middle" class="tk">285</text>
<text transform="translate(85.05,311.0) scale(1.04,1)" text-anchor="middle" class="tk">305</text>
<text transform="translate(142.35,311.0) scale(1.04,1)" text-anchor="middle" class="tk">325</text>
<text transform="translate(199.65,311.0) scale(1.04,1)" text-anchor="middle" class="tk">345</text>
<text transform="translate(256.95,311.0) scale(1.04,1)" text-anchor="middle" class="tk">365</text>
<text transform="translate(314.25,311.0) scale(1.04,1)" text-anchor="middle" class="tk">385</text>
<text transform="translate(166.45,337.3) scale(1.027,1)" text-anchor="middle" class="ax">Magnetic field [mT]</text>
<text transform="translate(433.20,311.0) scale(1.04,1)" text-anchor="middle" class="tk">285</text>
<text transform="translate(490.50,311.0) scale(1.04,1)" text-anchor="middle" class="tk">305</text>
<text transform="translate(547.80,311.0) scale(1.04,1)" text-anchor="middle" class="tk">325</text>
<text transform="translate(605.10,311.0) scale(1.04,1)" text-anchor="middle" class="tk">345</text>
<text transform="translate(662.40,311.0) scale(1.04,1)" text-anchor="middle" class="tk">365</text>
<text transform="translate(719.70,311.0) scale(1.04,1)" text-anchor="middle" class="tk">385</text>
<text transform="translate(571.90,337.3) scale(1.027,1)" text-anchor="middle" class="ax">Magnetic field [mT]</text>
<text transform="translate(6.4,349) scale(1.075,1.02)" class="pn">(a)</text>
<text transform="translate(405.7,349) scale(1.075,1.02)" class="pn">(b)</text>
</svg>
</body></html>
